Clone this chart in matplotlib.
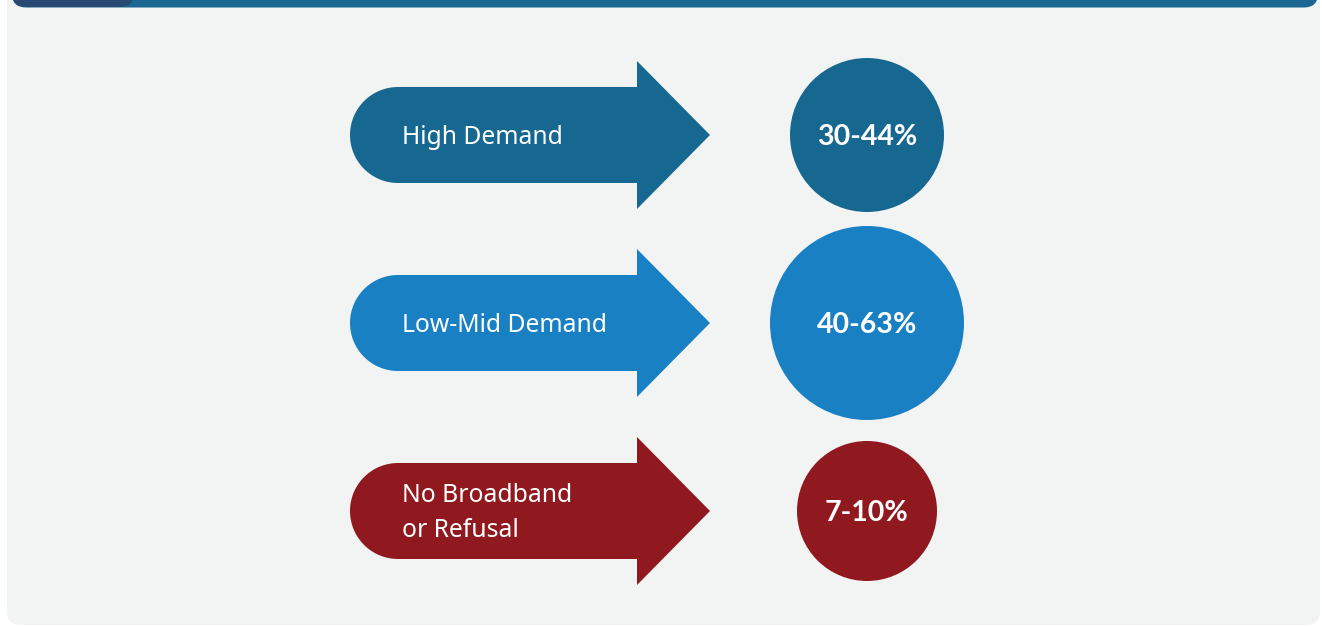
import matplotlib.pyplot as plt
import numpy as np
from matplotlib.patches import Polygon, Circle, FancyBboxPatch

# data
labels = ["High Demand", "Low-Mid Demand", "No Broadband\nor Refusal"]
shares = ["30-44%", "40-63%", "7-10%"]
colors = ["#176890", "#1a80c4", "#8f191e"]
radii = [77, 97, 70]   # circle size (px) for each row

W, H = 1322, 627
fig = plt.figure(figsize=(W / 100, H / 100), dpi=100)
ax = fig.add_axes([0, 0, 1, 1])
ax.set_xlim(0, W)
ax.set_ylim(H, 0)
ax.axis("off")

# panel + top band
ax.add_patch(FancyBboxPatch((7, -20), 1313, 645, boxstyle="round,pad=0,rounding_size=14",
                            fc="#f2f4f4", ec="none"))
ax.add_patch(FancyBboxPatch((12, -20), 1306, 27.5, boxstyle="round,pad=0,rounding_size=14",
                            fc="#1a6891", ec="none"))
ax.add_patch(FancyBboxPatch((12, -20), 122, 27, boxstyle="round,pad=0,rounding_size=14",
                            fc="#284a72", ec="none"))


def arrow_shape(yc, x0=350, x1=637, xt=710, hb=48, hh=74):
    t = np.linspace(np.pi / 2, 3 * np.pi / 2, 60)
    arc = np.column_stack([x0 + hb + hb * np.cos(t), yc - hb * np.sin(t)])
    rest = np.array([
        [x1, yc + hb], [x1, yc + hh], [xt, yc], [x1, yc - hh], [x1, yc - hb],
    ])
    return np.vstack([arc, rest])


for i, (lab, sh, c, r) in enumerate(zip(labels, shares, colors, radii)):
    yc = 135 + i * 188
    ax.add_patch(Polygon(arrow_shape(yc), closed=True, fc=c, ec="none"))
    ax.text(402, yc + 2, lab, color="white", fontsize=17.8, family="Noto Sans",
            ha="left", va="center", linespacing=1.55)
    ax.add_patch(Circle((867, yc), r, fc=c, ec="none"))
    ax.text(867, yc + 2, sh, color="white", fontsize=20.5, family="Lato",
            fontweight="bold", ha="center", va="center")

fig.savefig("out.png", dpi=100, facecolor="white")
